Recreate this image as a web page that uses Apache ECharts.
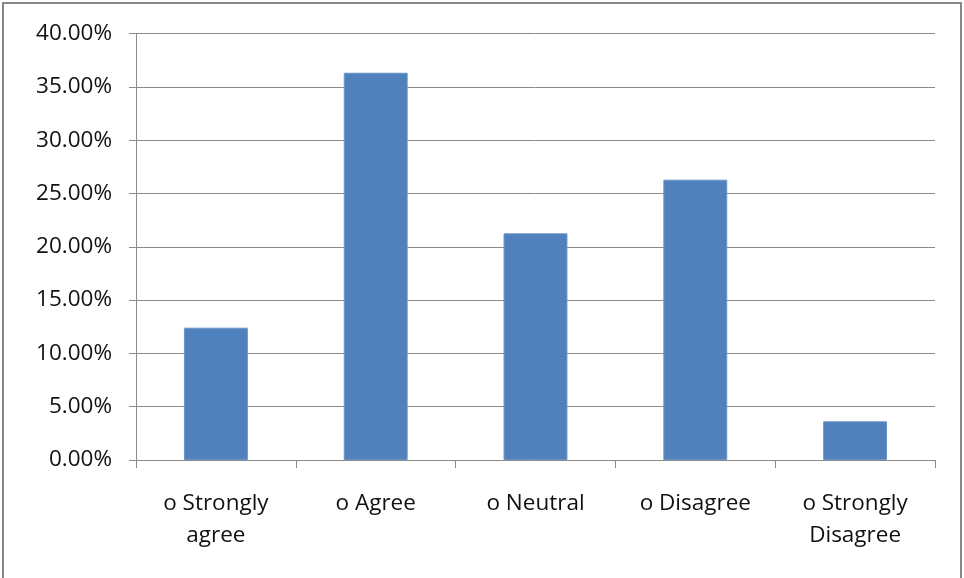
<!DOCTYPE html>
<html>
<head>
<meta charset="utf-8">
<title>Survey responses</title>
<script src="https://cdn.jsdelivr.net/npm/echarts@6/dist/echarts.min.js"></script>
<style>
  html, body { margin: 0; padding: 0; background: #ffffff; }
  #chart { width: 964px; height: 578px; }
</style>
</head>
<body>
<div id="chart"></div>
<script>
// Response categories and their share of respondents (percent)
const categories = ['o Strongly\nagree', 'o Agree', 'o Neutral', 'o Disagree', 'o Strongly\nDisagree'];
const shares = [12.41, 36.32, 21.26, 26.29, 3.63];

// Value axis range and step (percent)
const axisMin = 0;
const axisMax = 40;
const axisStep = 5;

const chart = echarts.init(document.getElementById('chart'), null, { renderer: 'canvas' });

const lineColor = '#8a8a8a';
const textFont = '"Open Sans", "DejaVu Sans", sans-serif';

chart.setOption({
  animation: false,
  backgroundColor: '#ffffff',
  graphic: [{
    type: 'rect',
    shape: { x: 3, y: 3, width: 958, height: 620 },
    style: { fill: 'none', stroke: '#868686', lineWidth: 2 },
    silent: true
  }],
  grid: { left: 136, right: 29, top: 33.5, bottom: 118, containLabel: false },
  xAxis: {
    type: 'category',
    data: categories,
    axisLine: { show: true, lineStyle: { color: lineColor, width: 1 } },
    axisTick: { show: true, length: 8, lineStyle: { color: lineColor, width: 1 } },
    axisLabel: {
      color: '#111111',
      fontFamily: textFont,
      fontSize: 22.5,
      lineHeight: 32,
      margin: 28,
      interval: 0
    },
    splitLine: { show: false }
  },
  yAxis: {
    type: 'value',
    min: axisMin,
    max: axisMax,
    interval: axisStep,
    axisLine: { show: true, lineStyle: { color: lineColor, width: 1 } },
    axisTick: { show: true, length: 7, lineStyle: { color: lineColor, width: 1 } },
    axisLabel: {
      color: '#111111',
      fontFamily: textFont,
      fontSize: 22.5,
      margin: 24,
      formatter: v => v.toFixed(2) + '%'
    },
    splitLine: { show: true, lineStyle: { color: lineColor, width: 1 } }
  },
  series: [{
    type: 'bar',
    data: shares,
    barWidth: '40%',
    itemStyle: { color: '#4f81bd', borderColor: '#6d95c6', borderWidth: 1 }
  }]
});
</script>
</body>
</html>
